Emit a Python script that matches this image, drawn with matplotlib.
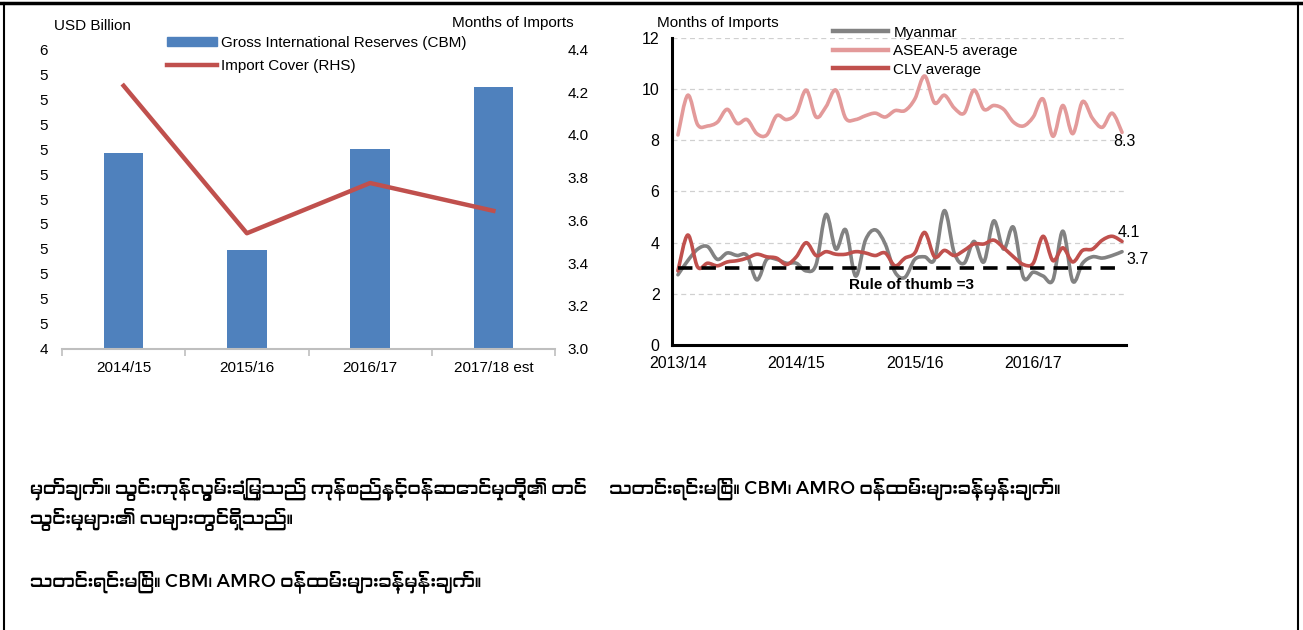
import numpy as np
import matplotlib
matplotlib.use('Agg')
import matplotlib.pyplot as plt
from matplotlib import font_manager
from matplotlib.path import Path
from matplotlib.patches import PathPatch, Patch
from matplotlib.lines import Line2D
from matplotlib.ft2font import FT2Font

# left chart: reserves (bars) and import cover (line, RHS)
years = ['2014/15', '2015/16', '2016/17', '2017/18 est']
reserves = [5.31, 4.66, 5.335, 5.75]
import_cover = [4.23, 3.54, 3.775, 3.645]
left_ticklabels = ['4', '5', '5', '5', '5', '5', '5', '5', '5', '5', '5', '5', '6']

# right chart: monthly months-of-imports
fy_labels = ['2013/14', '2014/15', '2015/16', '2016/17']
myanmar = [2.75, 3.3, 3.75, 3.85, 3.35, 3.6, 3.5, 3.5, 2.55, 3.35, 3.35, 3.2, 3.2, 2.9, 3.15,
           5.1, 3.75, 4.5, 2.7, 4.1, 4.5, 3.95, 2.85, 2.65, 3.35, 3.45, 3.35, 5.25, 3.6, 3.2,
           4.05, 3.25, 4.85, 3.75, 4.6, 2.65, 2.85, 2.7, 2.55, 4.45, 2.5, 3.2, 3.45, 3.4, 3.5, 3.65]
asean5 = [8.2, 9.75, 8.6, 8.55, 8.7, 9.2, 8.65, 8.8, 8.25, 8.2, 8.95, 8.8, 9.05, 9.95, 8.9,
          9.3, 9.95, 8.85, 8.8, 8.95, 9.05, 8.9, 9.15, 9.15, 9.6, 10.5, 9.45, 9.75, 9.25, 9.05,
          9.95, 9.2, 9.35, 9.2, 8.7, 8.55, 8.9, 9.6, 8.15, 9.35, 8.25, 9.5, 8.85, 8.5, 9.05, 8.3]
clv = [2.9, 4.3, 3.05, 3.2, 3.1, 3.25, 3.3, 3.4, 3.55, 3.45, 3.4, 3.15, 3.45, 4.0, 3.5,
       3.65, 3.55, 3.55, 3.65, 3.6, 3.5, 3.6, 3.1, 3.4, 3.6, 4.4, 3.45, 3.7, 3.5, 3.7,
       3.95, 3.95, 4.1, 3.8, 3.45, 3.15, 3.2, 4.25, 3.3, 3.8, 3.25, 3.7, 3.75, 4.1, 4.25, 4.05]
rule_of_thumb = 3
end_labels = ['8.3', '4.1', '3.7']

note_lines = [
    'မှတ်ချက်။ သွင်းကုန်လွှမ်းခြုံမှုသည် ကုန်စည်နှင့်ဝန်ဆောင်မှုတို့၏ တင်     သတင်းရင်းမြစ်။ CBM၊ AMRO ဝန်ထမ်းများခန့်မှန်းချက်။',
    'သွင်းမှုများ၏ လများတွင်ရှိသည်။',
    'သတင်းရင်းမြစ်။ CBM၊ AMRO ဝန်ထမ်းများခန့်မှန်းချက်။',
]


def find_myanmar_font():
    for f in font_manager.fontManager.ttflist:
        if 'myanmar' in f.name.lower() or 'padauk' in f.name.lower():
            return f.name
    for f in font_manager.fontManager.ttflist:
        try:
            if 0x1019 in FT2Font(f.fname).get_charmap():
                return f.name
        except Exception:
            pass
    return None


def smooth_path(x, y):
    # Bezier path through the points, like a spreadsheet "smoothed line"
    x = np.asarray(x, float)
    y = np.asarray(y, float)
    px = np.concatenate([[x[0]], x, [x[-1]]])
    py = np.concatenate([[y[0]], y, [y[-1]]])
    verts = [(x[0], y[0])]
    codes = [Path.MOVETO]
    for i in range(1, len(px) - 2):
        c1 = (px[i] + (px[i + 1] - px[i - 1]) / 6, py[i] + (py[i + 1] - py[i - 1]) / 6)
        c2 = (px[i + 1] - (px[i + 2] - px[i]) / 6, py[i + 1] - (py[i + 2] - py[i]) / 6)
        verts += [c1, c2, (px[i + 1], py[i + 1])]
        codes += [Path.CURVE4] * 3
    return Path(verts, codes)


arial = 'Liberation Sans'
plt.rcParams['font.family'] = [arial, 'DejaVu Sans']
LFS = 11  # left chart text size

blue = '#4F81BD'
red = '#C0504D'
pink = '#E39A9A'
grey = '#828282'

fig = plt.figure(figsize=(13.03, 6.30), dpi=100)

# ---- left chart
ax = fig.add_axes([62 / 1303, 1 - 348.7 / 630, 493 / 1303, 299.3 / 630])
xs = np.arange(len(years))
ax.bar(xs, reserves, width=0.32, color=blue, zorder=2)
ax.set_xlim(-0.5, len(years) - 0.5)
ax.set_ylim(4, 6)
ax.set_yticks(np.linspace(4, 6, len(left_ticklabels)))
ax.set_yticklabels(left_ticklabels, fontsize=LFS)
ax.tick_params(axis='y', length=0, pad=10)
ax.set_xticks(xs)
ax.set_xticklabels(years, fontsize=LFS)
ax.set_xticks(np.arange(-0.5, len(years)), minor=True)
ax.tick_params(axis='x', which='major', length=0, pad=9)
ax.tick_params(axis='x', which='minor', length=5, color='#BFBFBF', width=1.2)
for s in ['top', 'right', 'left']:
    ax.spines[s].set_visible(False)
ax.spines['bottom'].set_color('#BFBFBF')
ax.spines['bottom'].set_linewidth(1.5)

ax2 = ax.twinx()
ax2.plot(xs, import_cover, color=red, lw=3.2, zorder=3)
ax2.set_ylim(3.0, 4.4)
ax2.set_yticks(np.arange(3.0, 4.41, 0.2))
ax2.set_yticklabels([f'{v:.1f}' for v in np.arange(3.0, 4.41, 0.2)], fontsize=LFS)
ax2.tick_params(axis='y', length=0, pad=9)
for s in ['top', 'right', 'left', 'bottom']:
    ax2.spines[s].set_visible(False)

fig.text(54 / 1303, 1 - 26.5 / 630, 'USD Billion', fontsize=LFS, va='center')
fig.text(452 / 1303, 1 - 23 / 630, 'Months of Imports', fontsize=LFS, va='center')

left_handles = [Patch(color=blue), Line2D([], [], color=red, lw=3.2)]
fig.legend(left_handles, ['Gross International Reserves (CBM)', 'Import Cover (RHS)'],
           loc='upper left', bbox_to_anchor=(167 / 1303, 1 - 36 / 630), frameon=False,
           prop={'size': LFS}, handlelength=3.3, handleheight=0.5,
           handletextpad=0.25, labelspacing=0.6, borderpad=0, borderaxespad=0)

# ---- right chart
bx = fig.add_axes([672 / 1303, 1 - 345.3 / 630, 454 / 1303, 307.8 / 630])
months = np.arange(len(myanmar))
bx.set_xlim(-0.6, 45.4)
bx.set_ylim(0, 12)
for series, col in [(asean5, pink), (myanmar, grey), (clv, red)]:
    bx.add_patch(PathPatch(smooth_path(months, series), fill=False, edgecolor=col,
                           lw=2.6, capstyle='round', joinstyle='round', zorder=3))
bx.plot([0, months[-1]], [rule_of_thumb, rule_of_thumb], color='black', lw=2.6,
        dashes=(4, 2.5), zorder=4)
bx.text(23.7, 2.35, 'Rule of thumb =3', fontsize=11, fontweight='bold', ha='center', va='center')
bx.text(months[-1] - 0.9, asean5[-1] - 0.35, end_labels[0], fontsize=11.5, ha='left', va='center')
bx.text(months[-1] - 0.4, clv[-1] + 0.35, end_labels[1], fontsize=11.5, ha='left', va='center')
bx.text(months[-1] + 0.4, myanmar[-1] - 0.3, end_labels[2], fontsize=11.5, ha='left', va='center')

bx.set_yticks(np.arange(0, 13, 2))
bx.set_yticklabels([str(v) for v in range(0, 13, 2)], fontsize=11.5)
bx.set_xticks(np.arange(0, 12 * len(fy_labels), 12))
bx.set_xticklabels(fy_labels, fontsize=11.5)
bx.tick_params(axis='both', length=0)
bx.tick_params(axis='y', pad=9)
bx.tick_params(axis='x', pad=8)
bx.grid(axis='y', color='#D0D0D0', ls=(0, (4, 3)), lw=0.9)
bx.set_axisbelow(True)
for s in ['top', 'right']:
    bx.spines[s].set_visible(False)
for s in ['left', 'bottom']:
    bx.spines[s].set_linewidth(2.2)
    bx.spines[s].set_color('black')

fig.text(657 / 1303, 1 - 23 / 630, 'Months of Imports', fontsize=11, va='center')
right_handles = [Line2D([], [], color=grey, lw=3.2), Line2D([], [], color=pink, lw=3.2),
                 Line2D([], [], color=red, lw=3.2)]
fig.legend(right_handles, ['Myanmar', 'ASEAN-5 average', 'CLV average'],
           loc='upper left', bbox_to_anchor=(833 / 1303, 1 - 25.5 / 630), frameon=False,
           prop={'size': 11}, handlelength=3.6, handletextpad=0.35, labelspacing=0.3,
           borderpad=0, borderaxespad=0)

# ---- notes
mm_font = find_myanmar_font()
note_family = [mm_font, 'DejaVu Sans'] if mm_font else ['DejaVu Sans']
for txt, ypix in zip(note_lines, [489, 519, 582]):
    fig.text(30 / 1303, 1 - ypix / 630, txt, family=note_family, fontsize=13, va='center')

# ---- frame
fig.add_artist(Line2D([0, 1], [1 - 3 / 630, 1 - 3 / 630], color='black', lw=2.5))
fig.add_artist(Line2D([4 / 1303, 4 / 1303], [0, 1 - 3 / 630], color='black', lw=1.5))
fig.add_artist(Line2D([1298 / 1303, 1298 / 1303], [0, 1 - 3 / 630], color='black', lw=1.5))

fig.savefig('out.png', dpi=100)
